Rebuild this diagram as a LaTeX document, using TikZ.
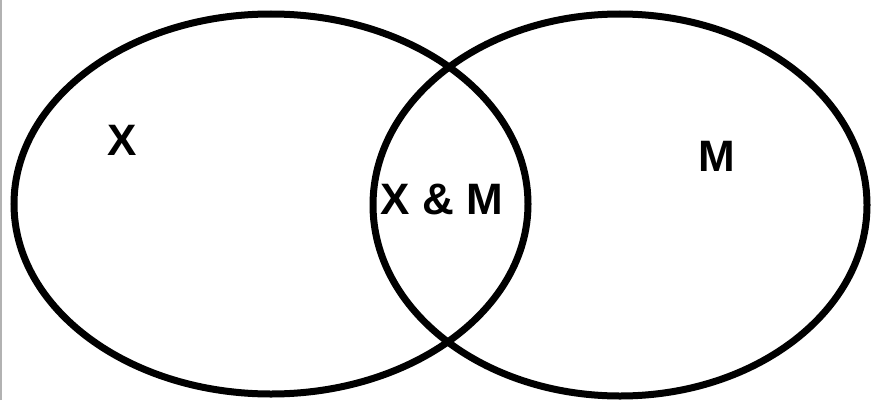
\documentclass[tikz,border=0pt]{standalone}
\usepackage{fontspec}
\newfontfamily\labelfont{Liberation Sans}
\usetikzlibrary{shapes.geometric}

\begin{document}
\begin{tikzpicture}[x=1pt,y=1pt,
  set/.style={draw,ellipse,line width=7pt,inner sep=0pt},
  lbl/.style={font=\labelfont\bfseries\fontsize{44}{44}\selectfont,inner sep=0pt}]
  \useasboundingbox[fill=white] (0,0) rectangle (872,400);
  \draw[gray!60,line width=1.5pt] (0.75,0) -- (0.75,400);
  % the two sets
  \node[set,minimum width=514pt,minimum height=380pt] (setX) at (271,196) {};
  \node[set,minimum width=494pt,minimum height=382pt] (setM) at (620,195) {};
  % labels
  \node[lbl] (labX) at (122,260) {X};
  \node[lbl] (labM) at (717,244) {M};
  \node[lbl] (labXM) at (442,201) {X \& M};
\end{tikzpicture}
\end{document}
